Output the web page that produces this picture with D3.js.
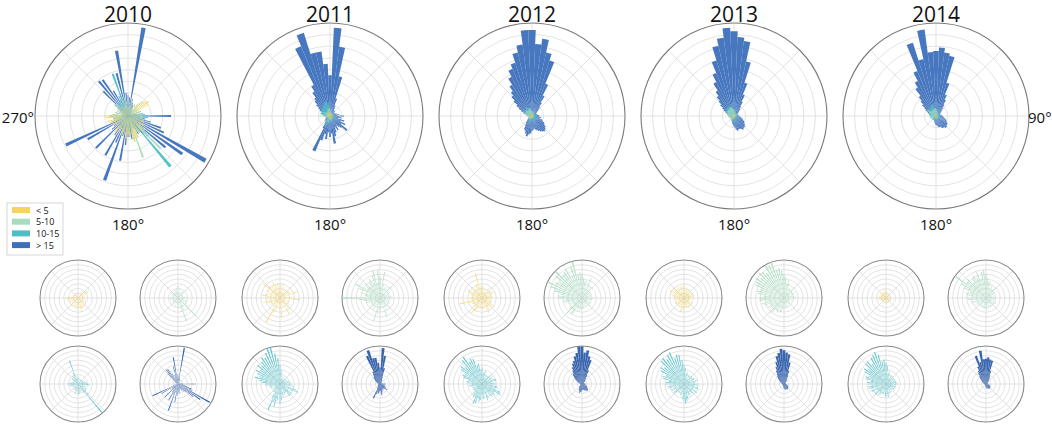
<!DOCTYPE html>
<html>
<head>
<meta charset="utf-8">
<script src="https://cdn.jsdelivr.net/npm/d3@7"></script>
<style>
  body { margin: 0; background: #fff; }
  text { font-family: "Open Sans", "DejaVu Sans", sans-serif; fill: #111; }
</style>
</head>
<body>
<svg width="1052" height="425"></svg>
<script>
/* years, wind speed classes and the direction bins (5 degrees each) */
var years = ["2010", "2011", "2012", "2013", "2014"];
var speedClasses = ["< 5", "5-10", "10-15", "> 15"];
var classColors = ["#f4d35e", "#a8dcbf", "#4dbec8", "#3d70bc"];
var smallColors = ["#f4d35e", "#a8dcbf", "#4dbec8", "#2d5ca9"];
var directions = d3.range(0, 360, 5);

/* frequencies per direction bin */
var y2010 = [0,1.0,0,0.8,0,0,1.5,0,1.8,0,2.4,2.7, 2.5,0,1.2,0,1.4,0,1.5,0,1.6,0,1.8,0,
  2.0,0,1.7,2.1,0,2.2,0,2.4,2.6,2.9,0,2.2, 2.0,2.5,0,1.8,2.1,0,2.0,0,2.3,0,1.6,0,
  1.9,0,2.1,2.3,0,2.4,2.6,1.8,0,1.2,0,1.3, 0,1.1,0,1.2,0,1.0,0,1.1,0,1.2,0,1.0];
var g2010 = [2.5,0,1.2,2.0,0,1.0,1.6,0,1.8,2.4,0,1.0, 1.3,0,1.2,0,1.5,0,1.8,1.3,0,1.2,2.0,0,
  2.2,0,2.6,5.4,0,1.8,2.2,2.8,5.2,3.0,0,2.0, 1.6,2.2,0,1.4,2.0,0,1.2,1.8,2.0,0,1.6,0,
  1.4,0,1.6,1.8,0,2.0,1.8,0,1.2,1.6,0,1.4, 0,1.6,1.8,2.0,0,1.4,1.8,0,2.0,1.6,2.2,0];
var t2010 = [1.6,0,0.8,1.4,0,0.6,1.2,0,1.0,0,1.2,0, 1.4,0,1.6,1.2,1.8,2.0,2.3,2.4,1.6,0,1.8,1.4,
  2.0,0,2.2,3.0,7.8,2.4,1.8,0,1.6,1.8,2.0,2.4, 1.8,0,1.4,2.2,1.6,0,1.6,0,1.4,0,0.8,1.2,
  0,1.4,1.6,0,1.8,1.6,2.2,1.8,0,1.6,1.2,0, 1.0,0,1.6,1.8,0,2.0,1.8,2.6,5.3,2.0,0,1.4];
var b2010 = [1.8,1.6,7.7,1.5,1.2,1.0,0.8,0.6,0.5,0.4,0.3,0.3, 0.5,0.4,0.8,0.6,1.0,0.8,3.7,1.0,1.5,2.0,3.0,3.4,
  7.7,5.7,4.2,2.5,2.0,1.5,1.8,1.2,1.0,1.5,2.0,1.8, 1.8,2.5,3.9,1.8,5.9,2.5,3.9,2.0,1.5,3.9,1.8,1.5,
  4.0,5.9,1.5,1.0,0.8,0.6,0.5,0.4,0.5,0.4,0.5,0.6, 0.8,1.0,1.5,3.0,3.9,3.8,2.5,1.5,2.0,3.8,5.7,2.0];

var y2011 = [3.0,1.5,3.2,1.0,2.6,0.8,2.2,1.5,1.0,2.8,0.8,2.4, 3.0,1.2,3.8,1.0,1.6,2.5,0.8,4.1,1.0,1.5,2.2,0.6,
  1.8,2.5,0.6,2.0,2.8,1.5,3.9,1.0,1.4,2.2,0.8,4.1, 2.5,1.6,1.0,1.4,2.8,3.5,5.9,1.0,1.5,2.4,0.8,2.5,
  1.6,2.2,3.0,3.7,1.0,2.6,1.2,3.0,3.9,1.5,2.8,1.0, 3.2,1.5,4.6,3.6,1.8,3.0,1.6,3.7,3.0,1.4,3.2,1.6];
var g2011 = [4.5,2.5,5.6,3.0,2.0,2.6,1.2,2.8,1.0,3.5,1.2,1.8, 2.4,0.8,2.0,1.8,2.5,1.0,2.6,1.8,1.2,1.5,2.0,0.8,
  2.4,1.6,1.0,2.8,2.2,1.8,3.0,1.4,4.3,2.0,1.2,2.2, 3.0,1.5,3.5,5.0,1.6,2.0,2.8,1.0,2.4,1.2,2.6,1.8,
  2.2,1.4,3.0,2.4,3.5,4.5,8.0,2.8,3.2,4.1,2.5,4.8, 5.8,3.2,3.6,4.4,2.8,4.0,4.6,3.5,5.0,6.0,3.2,5.8];
var t2011 = [4.0,3.0,2.5,1.0,1.8,0.8,1.6,1.2,0.6,1.3,1.8,0.8, 1.6,0.8,2.0,1.5,2.2,1.0,2.5,2.0,3.0,1.4,3.5,4.2,
  3.0,1.6,3.2,2.5,3.3,1.8,2.2,2.6,1.0,2.8,2.4,3.5, 4.1,2.0,3.6,5.0,4.0,6.0,3.5,1.8,2.2,1.6,1.8,1.0,
  1.6,2.2,1.0,2.4,2.0,2.8,3.2,3.8,4.5,5.5,4.6,5.2, 5.8,5.0,6.2,5.5,6.0,6.8,6.4,7.2,8.0,7.9,6.5,5.5];
var b2011 = [3.5,7.6,6.0,3.5,1.6,1.0,0.8,0.6,0.5,0.6,0.4,0.5, 0.4,0.5,0.6,0.5,0.8,0.6,1.2,0.8,1.0,0.7,1.3,1.0,
  1.5,1.2,1.9,1.4,1.2,1.0,1.4,1.1,1.5,1.8,2.4,1.5, 1.8,1.4,2.0,1.6,2.2,3.3,1.2,0.8,0.6,0.5,0.6,0.4,
  0.5,0.4,0.4,0.3,0.4,0.3,0.5,0.4,0.5,0.6,0.8,0.7, 1.0,1.2,1.5,1.8,2.0,2.5,3.0,6.5,7.5,5.6,5.6,4.5];

var y2012 = [2.5,1.2,2.4,1.8,1.0,1.6,2.0,2.8,1.2,1.8,2.4,1.0, 2.6,2.9,1.4,2.0,2.2,1.0,2.0,1.8,1.2,1.6,2.0,2.4,
  1.8,3.2,2.6,1.2,2.0,2.4,3.0,3.4,1.6,2.2,1.0,2.4, 2.2,1.0,2.6,2.0,1.4,2.8,3.2,3.9,2.0,2.4,1.2,2.2,
  2.6,1.2,3.0,4.9,1.8,2.4,2.6,1.2,2.0,2.4,2.8,3.2, 3.7,2.0,2.6,1.4,2.8,2.2,1.6,3.0,2.8,5.3,2.0,2.6];
var g2012 = [5.0,4.2,3.6,3.8,2.0,4.6,3.2,1.8,3.0,2.4,1.6,2.0, 2.2,1.2,2.4,2.0,1.6,2.2,2.5,1.2,2.2,1.8,1.0,1.6,
  2.2,1.8,1.0,2.4,1.8,2.0,1.2,2.2,1.8,1.0,2.4,2.0, 2.6,1.6,2.8,2.4,3.0,2.4,3.8,4.2,3.0,4.7,3.6,2.2,
  2.8,3.0,2.4,3.6,4.0,3.4,4.8,5.2,4.6,6.0,7.0,8.0, 6.5,5.8,7.2,8.0,6.4,6.6,7.0,5.2,7.0,7.9,5.0,5.4];
var t2012 = [3.5,2.0,2.6,2.8,1.4,2.2,2.0,1.4,2.0,2.6,1.2,2.8, 2.4,1.6,3.0,3.2,1.8,2.6,3.0,2.0,3.2,3.5,2.8,4.2,
  4.5,3.0,3.6,2.2,3.4,3.0,1.8,3.2,3.6,2.0,2.8,3.2, 2.0,3.4,3.8,3.2,4.4,4.6,3.0,3.4,2.8,1.4,2.0,2.2,
  1.2,2.0,2.2,1.4,2.6,2.8,2.0,3.2,3.4,2.8,4.2,4.6, 4.0,5.4,5.8,4.8,6.5,6.9,5.4,5.8,5.6,4.0,4.4,3.0];
var b2012 = [7.4,6.2,6.7,5.6,5.0,3.0,2.0,1.4,1.0,0.8,0.6,0.5, 0.4,0.4,0.5,0.4,0.5,0.6,0.7,0.6,0.8,0.7,0.9,1.0,
  1.2,1.3,1.5,1.6,1.7,1.6,1.5,1.4,1.3,1.2,1.1,1.2, 1.3,1.5,1.6,1.8,1.6,1.4,1.3,1.0,0.8,0.6,0.5,0.4,
  0.4,0.3,0.3,0.3,0.3,0.3,0.4,0.4,0.5,0.6,0.8,1.0, 1.3,1.6,2.0,2.4,2.7,3.2,3.8,4.4,4.8,5.6,6.2,7.4];

var y2013 = [2.6,1.2,2.0,2.4,1.0,2.0,1.6,2.2,1.0,2.0,1.6,0.8, 2.0,2.2,1.4,2.0,1.8,1.0,1.8,1.5,0.8,1.4,1.6,1.0,
  2.0,1.7,1.0,2.2,2.0,1.4,2.2,2.5,1.6,2.2,2.0,1.4, 2.6,1.8,3.0,3.2,1.6,2.2,2.0,1.0,2.0,1.8,1.0,2.2,
  2.2,1.0,1.6,1.8,1.0,1.8,2.0,1.2,2.6,2.8,1.6,3.2, 3.4,2.0,2.8,3.0,1.6,2.4,2.8,1.2,2.4,2.6,1.2,2.7];
var g2013 = [5.0,4.4,3.0,3.9,3.2,1.8,2.6,2.4,1.2,2.6,2.4,1.6, 2.8,2.4,1.2,2.0,2.4,1.2,2.6,2.2,1.0,1.8,1.6,1.0,
  1.6,1.4,0.8,1.8,1.6,1.0,2.0,1.8,1.0,2.2,2.0,1.4, 2.6,1.8,3.0,3.2,2.0,3.4,3.2,2.8,4.0,4.4,2.8,3.6,
  4.0,3.2,4.4,4.8,4.0,5.2,5.1,4.4,5.6,5.8,5.2,6.6, 6.8,7.2,6.5,7.3,7.0,6.4,7.8,7.6,8.0,6.2,6.4,5.8];
var t2013 = [4.0,3.4,2.0,2.6,2.4,1.2,2.0,2.2,1.0,2.4,2.2,1.0, 2.4,2.6,1.4,2.8,2.6,1.6,2.8,3.0,2.2,3.0,3.4,2.2,
  3.0,3.3,2.1,2.8,2.6,1.4,2.6,2.8,2.0,3.4,3.8,4.1, 3.6,3.2,1.8,2.6,2.4,1.2,2.0,2.2,1.4,2.6,2.8,1.6,
  2.8,3.0,2.2,3.4,3.6,2.8,4.0,3.8,3.2,4.6,4.8,4.2, 5.6,6.0,5.4,6.8,7.0,6.3,7.0,7.3,5.8,6.4,6.2,5.0];
var b2013 = [7.3,6.8,6.5,4.8,3.0,2.0,1.4,1.0,0.8,0.6,0.5,0.4, 0.4,0.3,0.4,0.3,0.4,0.4,0.5,0.5,0.6,0.7,0.8,0.9,
  1.0,1.1,1.2,1.3,1.3,1.4,1.3,1.2,1.2,1.3,1.2,1.0, 0.9,0.8,0.7,0.6,0.5,0.5,0.4,0.4,0.3,0.3,0.3,0.3,
  0.3,0.3,0.3,0.3,0.4,0.4,0.4,0.5,0.5,0.6,0.7,0.8, 1.0,1.2,1.5,1.8,2.2,2.6,3.3,4.0,5.0,6.2,6.8,7.6];

var y2014 = [1.6,1.0,1.5,1.2,0.7,1.0,1.1,0.6,0.9,1.0,0.5,1.0, 0.9,0.6,1.0,0.8,0.5,0.9,1.1,0.6,1.0,1.1,0.7,1.2,
  1.0,0.6,0.9,1.0,0.6,1.1,1.0,0.5,1.1,1.0,0.6,1.0, 0.8,0.5,0.8,1.0,0.6,0.8,0.9,0.5,1.1,1.0,0.7,1.1,
  1.3,0.8,1.4,1.5,1.0,1.8,1.7,1.0,1.4,1.6,1.0,1.7, 1.6,1.0,1.5,1.3,0.9,1.6,1.5,1.0,1.8,1.6,1.0,1.8];
var g2014 = [5.0,4.2,3.6,3.6,2.2,2.8,2.6,1.8,2.6,2.9,1.4,2.2, 2.0,1.2,1.6,1.8,1.0,1.8,2.0,1.2,2.0,1.8,1.2,2.2,
  2.4,1.4,2.0,2.2,1.4,2.2,2.0,1.2,2.0,2.2,1.4,2.6, 2.4,1.6,2.4,2.2,1.2,2.2,2.0,1.2,2.0,2.2,1.4,2.6,
  2.8,2.0,3.2,3.4,2.4,3.8,4.1,3.0,4.2,4.4,3.6,5.2, 6.0,8.0,5.2,5.6,4.2,5.0,5.4,4.6,5.8,4.2,5.6,5.9];
var t2014 = [4.5,3.8,2.2,2.8,2.4,1.4,2.0,2.2,1.4,2.2,2.0,1.2, 2.0,2.2,1.4,2.2,2.4,1.6,2.4,2.2,1.4,2.2,2.0,1.2,
  2.0,1.8,1.0,1.8,1.6,1.0,2.0,2.2,1.4,2.6,2.8,2.0, 2.8,2.6,1.4,2.2,2.2,1.4,2.6,2.8,2.0,3.2,3.0,2.2,
  3.4,3.6,2.4,3.6,3.8,3.0,3.8,4.0,3.2,4.4,4.6,3.8, 5.2,5.6,4.8,6.0,6.2,5.0,6.3,6.7,7.1,6.4,4.8,5.2];
var b2014 = [5.6,5.9,5.5,5.3,3.0,2.0,1.6,1.2,0.9,0.7,0.6,0.5, 0.4,0.4,0.4,0.4,0.5,0.5,0.6,0.6,0.7,0.8,0.9,1.0,
  1.1,1.2,1.2,1.3,1.3,1.2,1.2,1.1,1.0,1.0,0.9,0.8, 0.8,0.7,0.6,0.5,0.5,0.4,0.4,0.4,0.3,0.3,0.3,0.3,
  0.3,0.3,0.3,0.3,0.3,0.4,0.4,0.4,0.5,0.6,0.7,0.8, 1.0,1.2,1.5,1.8,2.2,2.9,3.4,4.2,6.6,5.0,7.5,5.5];

/* value at the outer rim of each rose: big rose per class, small roses per class */
var bigRim = [[10, 11, 11, 8], [90, 70, 50, 8], [120, 90, 60, 8], [120, 80, 60, 8], [90, 70, 55, 8]];
var smallRim = [[8, 8, 8, 8], [8, 8, 8, 8], [8, 8, 8, 7.5], [8, 8, 8, 8.2], [8, 8, 8, 8.4]];

var series = [
  [y2010, g2010, t2010, b2010],
  [y2011, g2011, t2011, b2011],
  [y2012, g2012, t2012, b2012],
  [y2013, g2013, t2013, b2013],
  [y2014, g2014, t2014, b2014]
];

var svg = d3.select("svg");

var bigCx = d3.scalePoint().domain(years).range([128, 936]);
var bigCy = 116, bigR = 93;
var smallR = 38, smallRows = [298, 384], smallOffset = 50;

var angle = d3.scaleLinear().domain([0, 360]).range([0, 2 * Math.PI]);
// half width of a bar in degrees: 2010 is drawn as thin spikes, later years as filled fans
var bigHalfWidth = [1.4, 2.5, 2.5, 2.5, 2.5];
var smallHalfWidth = 1.1;
var smallBlueHalfWidth = [1.1, 2.3, 2.3, 2.3, 2.3];

/* polar grid: 8 rings and spokes every 45 degrees */
function drawGrid(g, R, rimColor) {
  g.selectAll("circle.ring")
    .data(d3.range(1, 8))
    .enter().append("circle")
      .attr("r", function(k) { return R * k / 8; })
      .attr("fill", "none")
      .attr("stroke", "#dcdcdc")
      .attr("stroke-width", 0.8);
  g.selectAll("line.spoke")
    .data(d3.range(0, 360, 45))
    .enter().append("line")
      .attr("x1", 0).attr("y1", 0)
      .attr("x2", function(a) { return R * Math.sin(angle(a)); })
      .attr("y2", function(a) { return -R * Math.cos(angle(a)); })
      .attr("stroke", "#dcdcdc")
      .attr("stroke-width", 0.8);
  g.append("circle")
    .attr("r", R)
    .attr("fill", "none")
    .attr("stroke", rimColor)
    .attr("stroke-width", 1.1);
}

function drawBars(g, values, rim, R, color, opacity, half) {
  var r = d3.scaleLinear().domain([0, rim]).range([0, R]).clamp(true);
  var arc = d3.arc()
    .innerRadius(0)
    .outerRadius(function(d) { return r(d.v); })
    .startAngle(function(d) { return angle(d.dir - half); })
    .endAngle(function(d) { return angle(d.dir + half); });
  g.append("g").selectAll("path")
    .data(directions.map(function(dir, i) { return {dir: dir, v: values[i]}; })
      .filter(function(d) { return d.v > 0; }))
    .enter().append("path")
      .attr("d", arc)
      .attr("fill", color)
      .attr("fill-opacity", opacity);
}

years.forEach(function(year, yi) {
  var cx = bigCx(year);

  /* big rose: all classes overlaid, fastest drawn first */
  var big = svg.append("g").attr("transform", "translate(" + cx + "," + bigCy + ")");
  drawGrid(big, bigR, "#7a7a7a");
  [3, 2, 1, 0].forEach(function(ci) {
    drawBars(big, series[yi][ci], bigRim[yi][ci], bigR, classColors[ci], 0.95, bigHalfWidth[yi]);
  });

  svg.append("text")
    .attr("x", cx).attr("y", 22)
    .attr("text-anchor", "middle")
    .attr("font-size", 21)
    .text(year);

  svg.append("text")
    .attr("x", cx).attr("y", 230)
    .attr("text-anchor", "middle")
    .attr("font-size", 15)
    .text("180°");

  /* small roses: one per speed class */
  speedClasses.forEach(function(cls, ci) {
    var sx = cx + (ci % 2 === 0 ? -smallOffset : smallOffset);
    var sy = smallRows[Math.floor(ci / 2)];
    var small = svg.append("g").attr("transform", "translate(" + sx + "," + sy + ")");
    drawGrid(small, smallR, "#8a8a8a");
    drawBars(small, series[yi][ci], smallRim[yi][ci], smallR, smallColors[ci],
      ci === 3 ? 0.95 : 0.85, ci === 3 ? smallBlueHalfWidth[yi] : smallHalfWidth);
  });
});

svg.append("text")
  .attr("x", 34).attr("y", 123)
  .attr("text-anchor", "end")
  .attr("font-size", 15)
  .text("270°");

svg.append("text")
  .attr("x", 1028).attr("y", 123)
  .attr("font-size", 15)
  .text("90°");

/* legend */
var legend = svg.append("g").attr("transform", "translate(7,203)");
legend.append("rect")
  .attr("width", 56).attr("height", 52)
  .attr("fill", "#fff")
  .attr("stroke", "#cccccc")
  .attr("stroke-width", 0.8);
var item = legend.selectAll("g.item")
  .data(speedClasses)
  .enter().append("g")
    .attr("transform", function(d, i) { return "translate(5," + (4 + i * 11.7) + ")"; });
item.append("rect")
  .attr("width", 18).attr("height", 6)
  .attr("fill", function(d, i) { return classColors[i]; });
item.append("text")
  .attr("x", 24).attr("y", 6.5)
  .attr("font-size", 9)
  .text(function(d) { return d; });
</script>
</body>
</html>
